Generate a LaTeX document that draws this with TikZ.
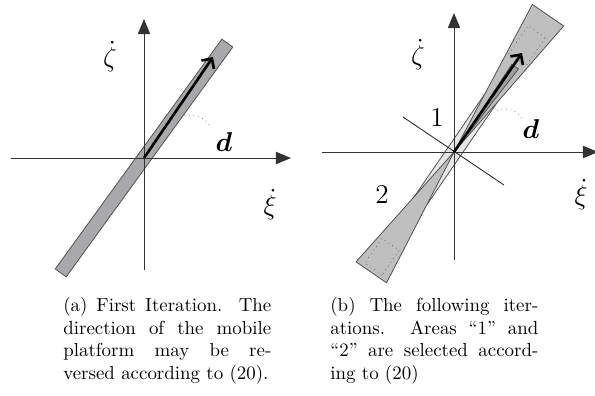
\documentclass[tikz,border=0pt]{standalone}
\usepackage{amsmath,bm}
\usetikzlibrary{arrows.meta,calc}
\definecolor{bandgray}{HTML}{A9A9AB}
\definecolor{lightband}{HTML}{E6E6E6}
\definecolor{wedgegray}{HTML}{BFBFBF}
\definecolor{innergray}{HTML}{A0A0A0}
\begin{document}
\begin{tikzpicture}[x=0.529pt,y=-0.529pt,
  axis/.style={line width=0.5pt,draw=black!80,-{Triangle[length=8pt,width=6.5pt]}},
  dirarrow/.style={line width=1.4pt,-{Straight Barb[length=4pt,width=8pt]}},
  leader/.style={dotted,draw=black!50,line width=0.4pt},
  lbl/.style={font=\Large,inner sep=0pt},
  captext/.style={text width=110pt,align=justify,inner sep=0pt,anchor=north west},
  bandline/.style={draw=black!70,line width=0.4pt},
  thinline/.style={draw=black!85,line width=0.45pt},
  boxdots/.style={dotted,draw=black!60,line width=0.4pt},
]
\useasboundingbox (0,0) rectangle (595,395);

% ---------------- left panel ----------------
\coordinate (O1) at (144,158);
\coordinate (u1) at (0.5866,-0.8092);
\coordinate (v1) at (0.8092,0.5866);
\path[bandline,fill=bandgray]
  ($(O1)+142*(u1)+6.75*(v1)$) -- ($(O1)+142*(u1)-6.75*(v1)$) --
  ($(O1)-142*(u1)-6.75*(v1)$) -- ($(O1)-142*(u1)+6.75*(v1)$) -- cycle;

\coordinate (x1s) at (11,158);
\coordinate (x1e) at (291,158);
\coordinate (y1s) at (144,270);
\coordinate (y1e) at (144,19);
\draw[axis] (x1s) -- (x1e);
\draw[axis] (y1s) -- (y1e);

\coordinate (d1e) at (213,57);
\draw[dirarrow] (O1) -- (d1e);

\node[lbl] (z1) at (110,57) {$\dot\zeta$};
\node[lbl] (xi1) at (270,205) {$\dot\xi$};
\node[lbl] (dl1) at (224,142) {$\bm{d}$};
\coordinate (l1s) at (180,116);
\draw[leader] (l1s) .. controls (195,113) and (207,118) .. (210,127);

% ---------------- right panel ----------------
\coordinate (O2) at (454,152);
\coordinate (u2) at (0.5664,-0.8241);
\coordinate (v2) at (0.8241,0.5664);
% light band
\path[bandline,fill=lightband]
  ($(O2)+130*(u2)+7.5*(v2)$) -- ($(O2)+130*(u2)-7.5*(v2)$) --
  ($(O2)-125*(u2)-7.5*(v2)$) -- ($(O2)-125*(u2)+7.5*(v2)$) -- cycle;
% outer wedges
\path[bandline,fill=wedgegray]
  (O2) -- ($(O2)+166*(u2)-19*(v2)$) -- ($(O2)+166*(u2)+19*(v2)$) -- cycle;
\path[bandline,fill=wedgegray]
  (O2) -- ($(O2)-146*(u2)-18.5*(v2)$) -- ($(O2)-146*(u2)+18.5*(v2)$) -- cycle;
% inner wedge (upper)
\path[bandline,fill=innergray]
  (O2) -- ($(O2)+105*(u2)-2*(v2)$) -- ($(O2)+105*(u2)+6*(v2)$) -- cycle;
% dotted boxes
\draw[boxdots]
  ($(O2)+146*(u2)+10.5*(v2)$) -- ($(O2)+146*(u2)-10.5*(v2)$) --
  ($(O2)+112*(u2)-10.5*(v2)$) -- ($(O2)+112*(u2)+10.5*(v2)$) -- cycle;
\draw[boxdots]
  ($(O2)-142*(u2)+10.5*(v2)$) -- ($(O2)-142*(u2)-10.5*(v2)$) --
  ($(O2)-112*(u2)-10.5*(v2)$) -- ($(O2)-112*(u2)+10.5*(v2)$) -- cycle;

% perpendicular separating line
\coordinate (p2s) at (403,117);
\coordinate (p2e) at (504,185);
\draw[thinline] (p2s) -- (p2e);

\coordinate (x2s) at (322,152);
\coordinate (x2e) at (598,152);
\coordinate (y2s) at (454,260);
\coordinate (y2e) at (454,13);
\draw[axis] (x2s) -- (x2e);
\draw[axis] (y2s) -- (y2e);

\coordinate (d2e) at (522,53);
\draw[dirarrow] (O2) -- (d2e);

\node[lbl] (z2) at (418,55) {$\dot\zeta$};
\node[lbl] (xi2) at (581,195) {$\dot\xi$};
\node[lbl] (dl2) at (531,129) {$\bm{d}$};
\node[lbl] (one) at (437,117) {1};
\node[lbl] (two) at (382,194) {2};
\coordinate (l2s) at (497,110);
\draw[leader] (l2s) .. controls (510,107) and (520,112) .. (522,120);

% ---------------- captions ----------------
\node[captext] (capa) at (63,297) {(a) First Iteration. The\linebreak
direction of the mobile\linebreak platform may be re-\linebreak
versed according to (20).};
\node[captext] (capb) at (330,297) {(b) The following iter-\linebreak
ations. Areas ``1'' and\linebreak ``2'' are selected accord-\linebreak
ing to (20)};
\end{tikzpicture}
\end{document}
